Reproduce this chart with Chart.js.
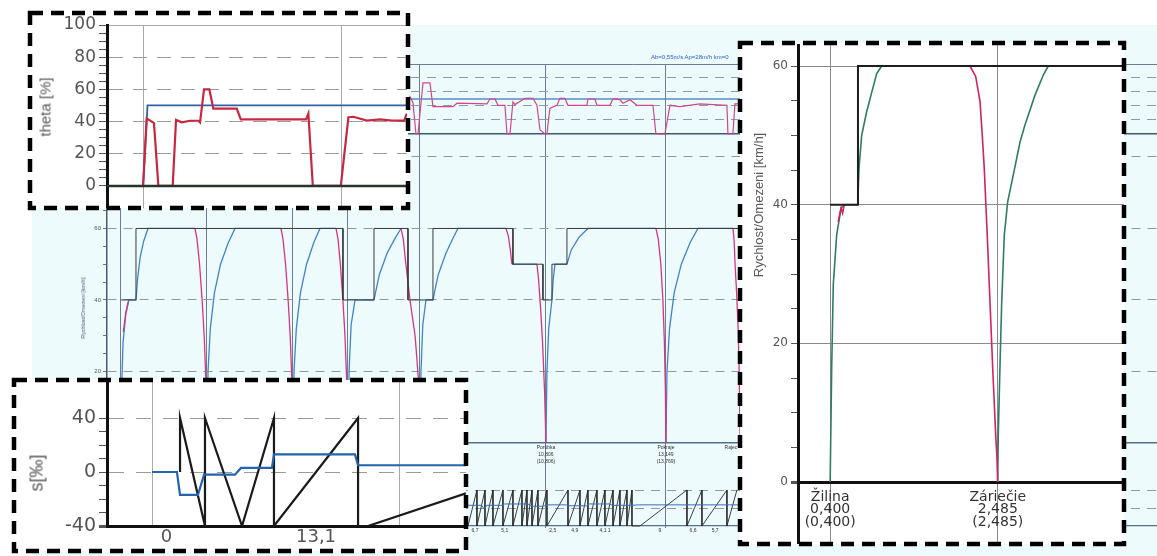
<!DOCTYPE html>
<html>
<head>
<meta charset="utf-8">
<script src="https://cdn.jsdelivr.net/npm/chart.js"></script>
<style>
  html, body { margin: 0; padding: 0; }
  body { width: 1157px; height: 556px; overflow: hidden; position: relative; background: #fff; font-family: 'Liberation Sans', Arial, sans-serif; }
  .box { position: absolute; }
  .bg { left: 32px; top: 25px; width: 1128px; height: 531px; background: #eefbfd; }
  .inset { background: #fff; }
  .vtitle { position: absolute; white-space: nowrap; font-weight: normal; transform: translate(-50%, -50%) rotate(-90deg); color: #5a5a5a; }
</style>
</head>
<body>
<div class="box bg"><canvas id="bgChart" width="1128" height="531"></canvas></div>
<div class="vtitle" style="left:83px; top:308px; font-size:5.5px; color:#4a5a78;">Rychlost/Omezeni [km/h]</div>
<div style="position:absolute; left:651px; top:54px; font-size:6px; color:#2a5bd7; white-space:nowrap;">Ab=0,55m/s Ap=28m/h km=0</div>

<div class="box inset" style="left:30px; top:13px; width:378px; height:195px;"><canvas id="thetaChart" width="378" height="195"></canvas></div>
<div class="vtitle" style="left:45px; top:107px; font-size:15px;">theta [%]</div>

<div class="box inset" style="left:14px; top:380px; width:452px; height:171px;"><canvas id="gradChart" width="452" height="171"></canvas></div>
<div class="vtitle" style="left:37px; top:473px; font-size:18px;">s[‰]</div>

<div class="box inset" style="left:740px; top:43px; width:384px; height:501px;"><canvas id="speedChart" width="384" height="501"></canvas></div>
<div class="vtitle" style="left:758px; top:205px; font-size:13px;">Rychlost/Omezeni [km/h]</div>

<svg width="1157" height="556" style="position:absolute; left:0; top:0; pointer-events:none">
  <g fill="none" stroke="#000" stroke-width="4.5" stroke-dasharray="13 8">
    <rect x="30" y="13" width="378" height="195"/>
    <rect x="14" y="380" width="452" height="171"/>
    <rect x="740" y="43" width="384" height="501"/>
  </g>
</svg>

<script>
// ---------- background run: km / km/h, theta %, gradient ‰ ----------
const bgStations = [2.505, 4.185, 5.865, 6.939, 8.345, 10.806, 13.150];
const bgSpeedLabels = [20, 40, 60, 80];

const bgLimitKm  = [2.505, 2.798, 2.798, 6.841, 6.841, 7.447, 7.447, 8.111, 8.111, 8.599, 8.599, 10.161, 10.161, 10.747, 10.747, 10.923, 10.923, 11.216, 11.216, 18.0];
const bgLimitVal = [40, 40, 60, 60, 40, 40, 60, 60, 40, 40, 60, 60, 50, 50, 40, 40, 50, 50, 60, 60];

// null = gap between runs
const bgAccelKm = [
  2.505, 2.515, 2.545, 2.60, 2.66, 2.798, 2.83, 2.88, 2.95, 3.033, 3.951, 3.951,
  4.185, 4.205, 4.25, 4.33, 4.45, 4.60, 4.732, 5.630, 5.630,
  5.865, 5.885, 5.93, 6.01, 6.13, 6.27, 6.392, 6.705, 6.705,
  6.939, 6.96, 7.0, 7.076, 7.447, 7.55, 7.70, 7.85, 7.974, 7.974,
  8.345, 8.365, 8.40, 8.462, 8.599, 8.70, 8.85, 8.98, 9.087, 10.025, 10.025,
  10.142, 10.630, 10.630,
  10.806, 10.825, 10.86, 10.923, 10.95, 10.982, 11.216, 11.3, 11.45, 11.626, 12.954, 12.954,
  13.150, 13.17, 13.22, 13.31, 13.45, 13.62, 13.775, 14.458];
const bgAccelVal = [
  0, 14, 28, 36, 40, 40, 46, 52, 56.5, 60, 60, null,
  0, 20, 32, 42, 50, 56, 60, 60, null,
  0, 20, 32, 42, 50, 56, 60, 60, null,
  0, 20, 33, 40, 40, 47, 53, 57, 60, null,
  0, 20, 33, 40, 40, 47, 53, 57, 60, 60, null,
  50, 50, null,
  0, 20, 32, 40, 46, 50, 50, 54, 57.5, 60, 60, null,
  0, 20, 32, 42, 50, 56, 60, 60];

const bgBrakeKm = [
  2.55, 2.60, 2.645, 2.645,
  3.951, 3.99, 4.04, 4.09, 4.13, 4.165, 4.185, 4.185,
  5.630, 5.67, 5.72, 5.77, 5.81, 5.845, 5.865, 5.865,
  6.705, 6.745, 6.79, 6.84, 6.88, 6.915, 6.939, 6.939,
  7.974, 8.02, 8.07, 8.15, 8.25, 8.32, 8.345, 8.345,
  10.025, 10.07, 10.11, 10.142, 10.142,
  10.630, 10.66, 10.70, 10.74, 10.78, 10.806, 10.806,
  12.954, 13.0, 13.05, 13.09, 13.12, 13.14, 13.150, 13.150,
  14.458, 14.48, 14.50, 14.53, 14.56, 14.58, 14.60];
const bgBrakeVal = [
  31, 36.5, 39.5, null,
  60, 57, 50, 40, 30, 17, 0, null,
  60, 57, 50, 40, 30, 17, 0, null,
  60, 57, 50, 40, 30, 17, 0, null,
  60, 57, 50, 40, 30, 17, 0, null,
  60, 58, 54, 50, null,
  50, 46, 38, 28, 14, 0, null,
  60, 57, 50, 40, 28, 14, 0, null,
  60, 57, 50, 42, 32, 20, 0];

const bgThetaKm = [8.10, 8.15, 8.208, 8.267, 8.306, 8.404, 8.540, 8.599, 8.990, 9.068, 9.654, 9.712, 9.810, 9.868, 10.005, 10.044, 10.103, 10.161, 10.200, 10.396, 10.552, 10.630, 10.689, 10.786, 10.825, 10.884, 11.021, 11.079, 11.177, 11.236, 11.607, 11.626, 11.763, 11.802, 12.056, 12.114, 12.251, 12.310, 12.447, 12.583, 12.896, 12.954, 13.130, 13.228, 13.423, 13.814, 14.341, 14.361, 14.458, 14.497, 14.595];
const bgThetaVal = [40, 53, 45, 0, 0, 73, 73, 39, 39, 44, 43, 50, 50, 41, 41, 0, 0, 46, 42, 51, 51, 41, 6, 0, 0, 37, 41, 51, 51, 41, 41, 50, 50, 41, 41, 50, 49, 44, 49, 41, 41, 0, 0, 41, 39, 43, 41, 0, 0, 43, 43];
const bgThetaLimitKm = [8.0, 16.0];
const bgThetaLimitVal = [50, 50];

const bgProfileKm = [9.283, 9.458, 9.458, 9.615, 9.615, 9.771, 9.771, 9.966, 9.966, 10.161, 10.161, 10.337, 10.337, 10.435, 10.435, 10.533, 10.533, 10.650, 10.650, 10.825, 10.825, 11.236, 11.236, 11.470, 11.470, 11.626, 11.626, 11.802, 11.802, 11.958, 11.958, 12.115, 12.115, 12.251, 12.251, 12.388, 12.388, 12.486, 12.486, 12.642, 13.560, 13.560, 13.853, 13.853, 14.341, 14.341, 14.536];
const bgProfileVal = [-40, 40, -40, 40, -40, 40, -40, 40, -40, 40, -40, 40, -40, 40, -40, 40, -40, 40, -40, 40, -40, 40, -40, 40, -40, 40, -40, 40, -40, 40, -40, 40, -40, 40, -40, 40, -40, 40, -40, -40, 40, -40, 40, -40, 40, -40, 40];
const bgGradKm  = [9.283, 9.55, 9.60, 9.65, 9.95, 10.0, 10.15, 10.45, 10.55, 10.75, 10.85, 11.2, 11.25, 11.6, 11.65, 12.05, 12.1, 12.5, 12.6, 14.6];
const bgGradVal = [6, 6, -2, 6, 6, 9, 9, 9, 4, 4, 7, 7, 5, 5, 9, 9, 6, 6, 7, 7];
const bgGradLabelKm = [9.42, 10.0, 10.94, 11.37, 11.96, 13.03, 13.68, 14.11];
const bgGradLabels  = ['6,7', '5,1', '2,5', '4,9', '4,1 1', '9', '6,6', '5,7'];
const bgStationLabelKm = [10.806, 13.150, 14.42];
const bgStationLabels = [['Porúbka', '10,806', '(10,806)'], ['Pokraje', '13,149', '(13,769)'], ['Rajec', '', '']];

// ---------- inset: theta [%] ----------
const insetStations = [0.40, 2.485];
const thetaTickLabels = [0, 20, 40, 60, 80, 100];
const thetaKm  = [0.40, 0.438, 0.491, 0.515, 0.561, 0.712, 0.747, 0.807, 0.895, 0.982, 1.000, 1.042, 1.098, 1.140, 1.387, 1.429, 2.117, 2.141, 2.188, 2.483, 2.563, 2.615, 2.757, 2.897, 3.020, 3.150, 3.178];
const thetaVal = [0, 42, 40, 39, 0, 0, 41, 39.5, 40.5, 40.5, 39.5, 60, 60, 48, 48, 41.4, 41.4, 45, 0, 0, 42.7, 43, 40.6, 41.4, 40.6, 40.6, 45];
const thetaLimitKm  = [0.02, 0.40, 0.447, 3.18];
const thetaLimitVal = [0, 0, 50, 50];
const thetaZeroKm  = [0.02, 3.18];
const thetaZeroVal = [0, 0];

// ---------- inset: gradient s [‰] ----------
const gradTickLabels = [-40, 0, 40];
const profileKm  = [0.635, 0.635, 0.845, 0.845, 1.157, 1.426, 1.426, 2.134, 2.134, 2.218, 3.043];
const profileVal = [0, 40, -40, 40, -40, 40, -40, 40, -40, -40, -15.8];
const gradKm  = [0.399, 0.609, 0.635, 0.786, 0.837, 1.098, 1.148, 1.409, 1.426, 2.108, 2.134, 3.043];
const gradVal = [0, 0, -17, -17, -2, -2, 3, 3, 13, 13, 5, 5];
const gradLabelKm = [0.52, 1.78];
const gradLabelText = ['0', '13,1'];

// ---------- inset: speed [km/h] ----------
const speedTickLabels = [0, 20, 40, 60];
const speedStationKm = [0.40, 2.485];
const speedStationNames = ['Žilina', 'Záriečie'];
const speedStationPos = ['0,400', '2,485'];
const speedStationReal = ['(0,400)', '(2,485)'];
const limitKm  = [0.40, 0.746, 0.746, 4.055];
const limitVal = [40, 40, 60, 60];
const accelKm  = [0.40, 0.419, 0.439, 0.481, 0.535, 0.585, 0.585, 0.743, 0.759, 0.792, 0.854, 0.917, 0.979, 1.041, 1.041, 2.484, 2.491, 2.512, 2.534, 2.566, 2.608, 2.678, 2.761, 2.823, 2.948, 3.051, 3.113];
const accelVal = [0, 16.5, 28.5, 35.6, 39.5, 40, null, 40, 45.3, 50, 53.4, 56.2, 58.9, 60, null, 0, 6.8, 16.5, 26, 35.6, 40.4, 44.3, 49, 51.5, 55.8, 58.7, 60];
const cruiseKm  = [0.585, 0.743];
const cruiseVal = [40, 40];
const brakeKm  = [0.50, 0.535, 0.555, 0.575, 0.575, 2.139, 2.210, 2.264, 2.292, 2.317, 2.354, 2.388, 2.422, 2.459, 2.475, 2.484];
const brakeVal = [37.5, 39.5, 38.8, 40, null, 60, 58.5, 54.9, 50, 45.2, 35.6, 26, 16.4, 6.8, 3.5, 0];

// ---------- helpers ----------
function pts(xs, ys) { return xs.map((x, i) => ({ x: x, y: ys[i] })); }
function steps(a, b, step) { const r = []; for (let v = a; v <= b + 1e-9; v += step) r.push(Math.round(v * 100) / 100); return r; }
function line(data, color, width, yAxisID) {
  return { data: data, borderColor: color, borderWidth: width, pointRadius: 0, tension: 0, fill: false, spanGaps: false, yAxisID: yAxisID || 'y', xAxisID: 'x' };
}
function fixed(w, h) {
  return function (s) {
    if (w !== null) s.width = w;
    if (h !== null) s.height = h;
    s.paddingTop = 0; s.paddingBottom = 0; s.paddingLeft = 0; s.paddingRight = 0;
  };
}
const tv = ctx => (ctx.tick ? ctx.tick.value : NaN);
const base = { responsive: false, animation: false, events: [], plugins: { legend: { display: false }, tooltip: { enabled: false } } };

Chart.defaults.font.family = 'Liberation Sans';

// station names under the background speed axis
const stationText = {
  id: 'stationText',
  afterDatasetsDraw(chart) {
    const ctx = chart.ctx, xs = chart.scales.x, ys = chart.scales.y;
    ctx.save();
    ctx.font = '5px "Liberation Sans"';
    ctx.fillStyle = '#333';
    ctx.textAlign = 'center';
    ctx.textBaseline = 'middle';
    bgStationLabelKm.forEach((km, i) => {
      bgStationLabels[i].forEach((t, j) => ctx.fillText(t, xs.getPixelForValue(km), ys.getPixelForValue(0) + 5 + j * 7));
    });
    ctx.restore();
  }
};

// ---------- background chart ----------
new Chart(document.getElementById('bgChart'), {
  type: 'line',
  data: { datasets: [
    line(pts(bgLimitKm, bgLimitVal), '#3a3a3a', 1),
    line(pts(bgBrakeKm, bgBrakeVal), '#d8347f', 1.3),
    line(pts(bgAccelKm, bgAccelVal), '#3f84c8', 1.3),
    line(pts(bgThetaKm, bgThetaVal), '#d4468a', 1.2, 'yT'),
    line(pts(bgThetaLimitKm, bgThetaLimitVal), '#5a8cc0', 1.5, 'yT'),
    line(pts(bgGradKm, bgGradVal), '#3a6db5', 1, 'yG'),
    line(pts(bgProfileKm, bgProfileVal), '#2a2a2a', 0.9, 'yG')
  ] },
  options: Object.assign({}, base, {
    layout: { padding: { top: 39, left: 0, right: 0, bottom: 0 } },
    scales: {
      x: { type: 'linear', min: 2.232, max: 22.8,
        afterBuildTicks: s => { s.ticks = bgStations.map(v => ({ value: v })); },
        ticks: { display: false }, grid: { color: '#6d7d92', drawTicks: false }, border: { display: false },
        afterFit: fixed(null, 0) },
      x2: { type: 'linear', position: 'bottom', min: 2.232, max: 22.8,
        afterBuildTicks: s => { s.ticks = bgGradLabelKm.map(v => ({ value: v })); },
        ticks: { autoSkip: false, maxRotation: 0, padding: -8, color: '#333', font: { size: 5 },
          callback: (v, i) => bgGradLabels[i] },
        grid: { display: false }, border: { display: false },
        afterFit: fixed(null, 28) },
      y: { position: 'left', min: -23.78, max: 106.0,
        afterBuildTicks: s => { s.ticks = steps(0, 80, 5).map(v => ({ value: v })); },
        ticks: { autoSkip: false, padding: 2, color: '#555', font: { size: 6 },
          callback: v => (bgSpeedLabels.includes(v) ? String(v) : '') },
        grid: {
          color: ctx => (tv(ctx) === 0 ? '#55708a' : bgSpeedLabels.includes(tv(ctx)) ? '#8c9aa6' : 'rgba(0,0,0,0)'),
          lineWidth: ctx => (tv(ctx) === 0 ? 1.5 : 1),
          tickColor: '#66778a', tickLength: 4 },
        border: { color: '#4a5a70', width: 1.5, dash: ctx => (bgSpeedLabels.includes(tv(ctx)) ? [9, 7] : []) },
        afterFit: fixed(75, null) },
      yT: { position: 'right', min: -562.9, max: 100,
        afterBuildTicks: s => { s.ticks = [0, 20, 40, 60, 80, 100].map(v => ({ value: v })); },
        ticks: { display: false },
        grid: { drawTicks: false,
          color: ctx => (tv(ctx) === 0 ? '#3d5a6e' : tv(ctx) === 100 ? '#6d7d92' : '#8c9aa6'),
          lineWidth: ctx => (tv(ctx) === 0 ? 1.5 : 1) },
        border: { display: false, dash: ctx => (tv(ctx) > 0 && tv(ctx) < 100 ? [9, 7] : []) },
        afterFit: fixed(0, null) },
      yG: { position: 'right', min: -44.4, max: 986.7,
        afterBuildTicks: s => { s.ticks = [-40, 0, 40].map(v => ({ value: v })); },
        ticks: { display: false },
        grid: { drawTicks: false, color: ctx => (tv(ctx) === -40 ? '#55708a' : '#8c9aa6'), lineWidth: ctx => (tv(ctx) === -40 ? 1.2 : 1) },
        border: { display: false, dash: ctx => (tv(ctx) === -40 ? [] : [9, 7]) },
        afterFit: fixed(0, null) }
    }
  }),
  plugins: [stationText]
});

// ---------- theta inset ----------
new Chart(document.getElementById('thetaChart'), {
  type: 'line',
  data: { datasets: [
    line(pts(thetaZeroKm, thetaZeroVal), '#28352a', 2.5),
    line(pts(thetaKm, thetaVal), '#c8283f', 2.2),
    line(pts(thetaLimitKm, thetaLimitVal), '#2f63a8', 1.8)
  ] },
  options: Object.assign({}, base, {
    layout: { padding: { top: 12, right: 1, left: 0, bottom: 0 } },
    scales: {
      x: { type: 'linear', min: 0.02, max: 3.18,
        afterBuildTicks: s => { s.ticks = insetStations.map(v => ({ value: v })); },
        ticks: { display: false }, grid: { color: '#a8a8a8', drawTicks: false }, border: { display: false },
        afterFit: fixed(null, 0) },
      y: { min: -13.7, max: 100,
        afterBuildTicks: s => { s.ticks = steps(0, 100, 5).map(v => ({ value: v })); },
        ticks: { autoSkip: false, padding: 3, color: '#555', font: { family: 'DejaVu Sans', size: 17 },
          callback: v => (thetaTickLabels.includes(v) ? String(v) : '') },
        grid: {
          color: ctx => (tv(ctx) === 100 ? '#aaaaaa' : (tv(ctx) > 0 && thetaTickLabels.includes(tv(ctx))) ? '#9d9d9d' : 'rgba(0,0,0,0)'),
          tickColor: '#555', tickLength: 8 },
        border: { color: '#111', width: 3, dash: ctx => (tv(ctx) > 0 && tv(ctx) < 100 ? [14, 10] : []) },
        afterFit: fixed(77, null) }
    }
  })
});

// ---------- gradient inset ----------
new Chart(document.getElementById('gradChart'), {
  type: 'line',
  data: { datasets: [
    line(pts(gradKm, gradVal), '#2463ad', 2.2),
    line(pts(profileKm, profileVal), '#1a1a1a', 2.2)
  ] },
  options: Object.assign({}, base, {
    layout: { padding: 0 },
    scales: {
      x: { type: 'linear', min: 0.02, max: 3.043,
        afterBuildTicks: s => { s.ticks = insetStations.map(v => ({ value: v })); },
        ticks: { display: false }, grid: { color: '#aaaaaa', drawTicks: false }, border: { display: false },
        afterFit: fixed(null, 0) },
      x2: { type: 'linear', position: 'bottom', min: 0.02, max: 3.043,
        afterBuildTicks: s => { s.ticks = gradLabelKm.map(v => ({ value: v })); },
        ticks: { autoSkip: false, maxRotation: 0, padding: -7, color: '#555', font: { family: 'DejaVu Sans', size: 18 },
          callback: (v, i) => gradLabelText[i] },
        grid: { display: false }, border: { display: false },
        afterFit: fixed(null, 25) },
      y: { min: -40, max: 68.15,
        afterBuildTicks: s => { s.ticks = steps(-40, 40, 10).map(v => ({ value: v })); },
        ticks: { autoSkip: false, padding: 3, color: '#555', font: { family: 'DejaVu Sans', size: 19 },
          callback: v => (gradTickLabels.includes(v) ? String(v) : '') },
        grid: {
          color: ctx => (tv(ctx) === -40 ? '#111' : (tv(ctx) === 0 || tv(ctx) === 40) ? '#9a9a9a' : 'rgba(0,0,0,0)'),
          lineWidth: ctx => (tv(ctx) === -40 ? 3 : 1),
          tickColor: '#555', tickLength: 8 },
        border: { color: '#111', width: 3, dash: ctx => (tv(ctx) === 0 || tv(ctx) === 40 ? [15, 12] : []) },
        afterFit: fixed(93, null) }
    }
  })
});

// ---------- speed inset ----------
new Chart(document.getElementById('speedChart'), {
  type: 'line',
  data: { datasets: [
    line(pts(limitKm, limitVal), '#1e1e1e', 2),
    line(pts(brakeKm, brakeVal), '#d0245a', 1.6),
    line(pts(accelKm, accelVal), '#2f7d62', 1.6),
    line(pts(cruiseKm, cruiseVal), '#3f95d0', 1.6)
  ] },
  options: Object.assign({}, base, {
    layout: { padding: { top: 2, left: 0, right: 0, bottom: 0 } },
    scales: {
      x: { type: 'linear', min: 0, max: 4.055,
        afterBuildTicks: s => { s.ticks = [0].concat(speedStationKm).map(v => ({ value: v })); },
        ticks: { autoSkip: false, maxRotation: 0, padding: -53.3, color: '#333',
          font: { family: 'DejaVu Sans', size: 14, lineHeight: 0.9 },
          callback: v => { const i = speedStationKm.indexOf(v); return i < 0 ? '' : [speedStationNames[i], speedStationPos[i], speedStationReal[i]]; } },
        grid: {
          color: ctx => (tv(ctx) === 0 ? '#111' : '#8a8a8a'),
          lineWidth: ctx => (tv(ctx) === 0 ? 3 : 1),
          tickColor: ctx => (tv(ctx) === 0 ? '#111' : '#8a8a8a'),
          tickWidth: ctx => (tv(ctx) === 0 ? 3 : 1),
          tickLength: 62 },
        border: { display: false },
        afterFit: fixed(null, 62) },
      y: { min: 0, max: 63.03,
        afterBuildTicks: s => { s.ticks = steps(0, 60, 5).map(v => ({ value: v })); },
        ticks: { autoSkip: false, padding: 3, color: '#555', font: { family: 'DejaVu Sans', size: 12 },
          callback: v => (speedTickLabels.includes(v) ? String(v) : '') },
        grid: {
          color: ctx => (tv(ctx) === 0 ? '#111' : (tv(ctx) > 0 && speedTickLabels.includes(tv(ctx))) ? '#8a8a8a' : 'rgba(0,0,0,0)'),
          lineWidth: ctx => (tv(ctx) === 0 ? 3 : 1),
          tickColor: '#555', tickLength: 7 },
        border: { color: '#111', width: 3 },
        afterFit: fixed(58, null) }
    }
  })
});
</script>
</body>
</html>
